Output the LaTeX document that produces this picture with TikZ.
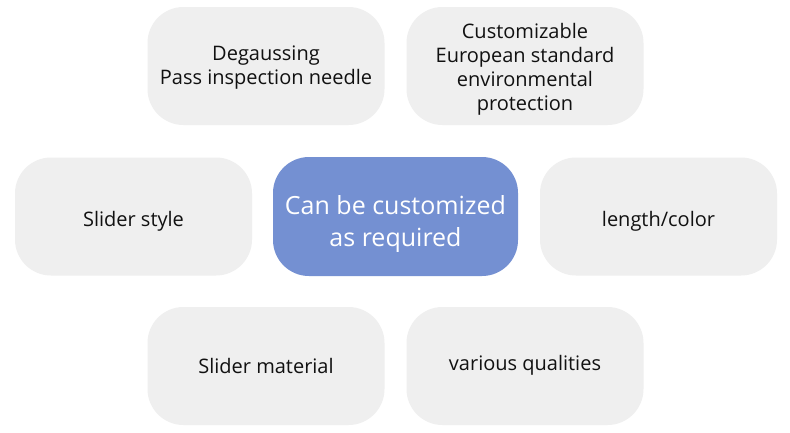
\documentclass[tikz,border=0pt]{standalone}
\usepackage{fontspec}
\setmainfont{Open Sans}
\definecolor{boxgray}{HTML}{EFEFEF}
\definecolor{boxblue}{HTML}{7490D2}
\definecolor{txt}{HTML}{111111}
\tikzset{
  graybox/.style={draw=none, fill=boxgray, rounded corners=36pt, minimum width=237pt, minimum height=118pt, inner sep=0pt},
  centerbox/.style={draw=none, fill=boxblue, rounded corners=36pt, minimum width=245pt, minimum height=119pt, inner sep=0pt},
  graytext/.style={align=center, text=txt, font=\fontsize{20}{24}\selectfont, inner sep=0pt},
  whitetext/.style={align=center, text=white, font=\fontsize{25}{32}\selectfont, inner sep=0pt}
}
\begin{document}
\begin{tikzpicture}[x=1pt,y=-1pt]
\useasboundingbox[fill=white] (0,0) rectangle (790,432);
\node[graybox, label={[graytext, yshift=-2pt]center:Degaussing\\Pass inspection needle}] (tl) at (266,66) {};
\node[graybox, label={[graytext, yshift=-3pt]center:Customizable\\European standard\\environmental\\protection}] (tr) at (525,66) {};
\node[graybox, label={[graytext, yshift=-5pt]center:Slider style}] (ml) at (133.5,216.5) {};
\node[centerbox, label={[whitetext, yshift=-7pt]center:Can be customized\\as required}] (c) at (395.5,216.5) {};
\node[graybox, label={[graytext, yshift=-5pt]center:length/color}] (mr) at (658.5,216.5) {};
\node[graybox, label={[graytext, yshift=0pt]center:Slider material}] (bl) at (266,366) {};
\node[graybox, label={[graytext, yshift=1pt]center:various qualities}] (br) at (525,366) {};
\end{tikzpicture}
\end{document}
